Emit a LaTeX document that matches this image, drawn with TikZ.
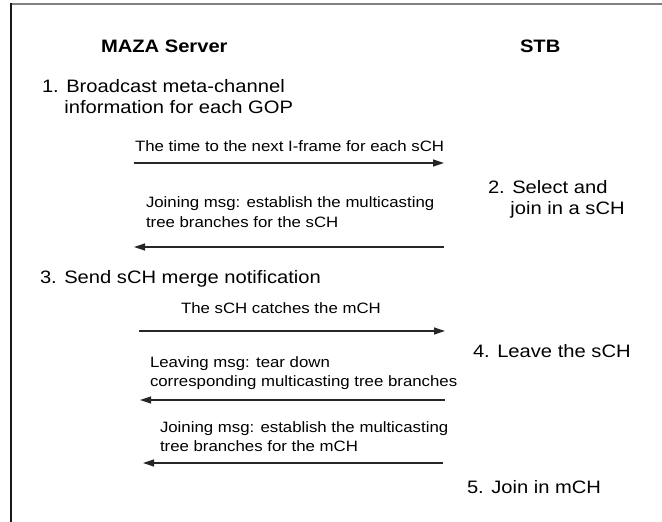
\documentclass[tikz,border=0pt]{standalone}
\usepackage{fontspec}
\setmainfont{Liberation Sans}[FakeStretch=1.12]
\usetikzlibrary{arrows.meta}
\newcommand{\lines}[1]{\begin{tabular}[t]{@{}l@{}}#1\end{tabular}}
\begin{document}
\begin{tikzpicture}[x=1bp,y=-1bp,
  txt/.style={anchor=base west,inner sep=0pt,outer sep=0pt},
  head/.style={txt,font=\fontsize{18bp}{21bp}\selectfont\bfseries},
  stepbox/.style={txt,font=\fontsize{18bp}{21bp}\selectfont},
  msg/.style={txt,font=\fontsize{15bp}{19.5bp}\selectfont},
  msgarrow/.style={draw=black!85,line width=1.2bp,-{Triangle[length=11bp,width=7bp]}}]
\useasboundingbox (0,0) rectangle (662,522);
% frame
\draw[black!50,line width=1.6bp] (11,4) -- (662,4);
\draw[black!90,line width=1.6bp] (11,3.2) -- (11,522);
% headings
\node[head] (maza) at (101,53) {MAZA Server};
\node[head] (stb) at (520,53) {STB};
% steps
\node[stepbox] (s1) at (42,93) {\lines{1. Broadcast meta-channel\\\hphantom{1.\ }information for each GOP}};
\node[stepbox] (s2) at (488,194) {\lines{2. Select and\\\hphantom{2.\ }join in a sCH}};
\node[stepbox] (s3) at (40,283) {3. Send sCH merge notification};
\node[stepbox] (s4) at (473,357) {4. Leave the sCH};
\node[stepbox] (s5) at (467,493) {5. Join in mCH};
% messages
\node[msg] (m1) at (135,152) {The time to the next I-frame for each sCH};
\node[msg] (m2) at (146,208) {\lines{Joining msg: establish the multicasting\\tree branches for the sCH}};
\node[msg] (m3) at (181,313) {The sCH catches the mCH};
\node[msg] (m4) at (150,367) {\lines{Leaving msg: tear down\\corresponding multicasting tree branches}};
\node[msg] (m5) at (160,432) {\lines{Joining msg: establish the multicasting\\tree branches for the mCH}};
% arrow end points
\coordinate (a1s) at (134,163); \coordinate (a1e) at (444,163);
\coordinate (a2s) at (444,247); \coordinate (a2e) at (134,247);
\coordinate (a3s) at (139,331); \coordinate (a3e) at (445,331);
\coordinate (a4s) at (445,400); \coordinate (a4e) at (140,400);
\coordinate (a5s) at (443,463); \coordinate (a5e) at (143,463);
\draw[msgarrow] (a1s) -- (a1e);
\draw[msgarrow] (a2s) -- (a2e);
\draw[msgarrow] (a3s) -- (a3e);
\draw[msgarrow] (a4s) -- (a4e);
\draw[msgarrow] (a5s) -- (a5e);
\end{tikzpicture}
\end{document}
